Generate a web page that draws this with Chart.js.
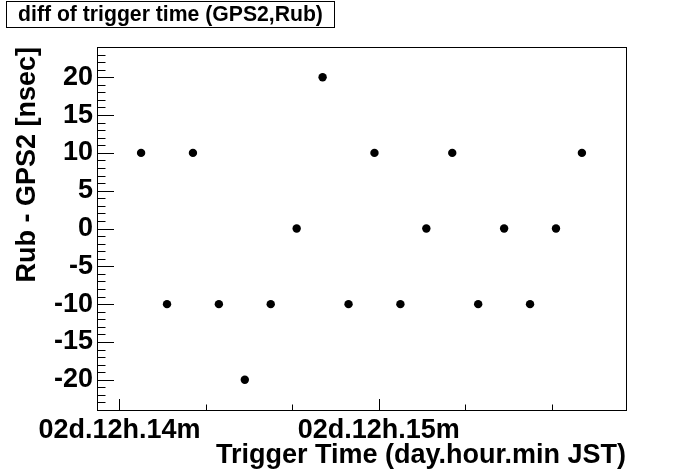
<!DOCTYPE html>
<html><head><meta charset="utf-8">
<script src="https://cdn.jsdelivr.net/npm/chart.js@4/dist/chart.umd.min.js"></script>
<style>html,body{margin:0;padding:0;background:#fff}#wrap{width:696px;height:472px;position:relative}</style>
</head><body><div id="wrap"><canvas id="c"></canvas></div>
<script>
const chartTitle = "diff of trigger time (GPS2,Rub)";
const xAxisTitle = "Trigger Time (day.hour.min JST)";
const yAxisTitle = "Rub - GPS2 [nsec]";
// trigger time in seconds after 02d.12h.14m JST
const triggerTimes = [5, 11, 17, 23, 29, 35, 41, 47, 53, 59, 65, 71, 77, 83, 89, 95, 101, 107];
// Rub - GPS2 [nsec]
const timeDiffs = [10, -10, 10, -10, -20, -10, 0, 20, -10, 10, -10, 0, 10, -10, 0, -10, 0, 10];
const xTickValues = [0, 60];
const xTickLabels = ["02d.12h.14m", "02d.12h.15m"];
const xMinorTickValues = [20, 40, 80, 100];
const yTickValues = [-20, -15, -10, -5, 0, 5, 10, 15, 20];
const yTickLabels = ["-20", "-15", "-10", "-5", "0", "5", "10", "15", "20"];
const xRange = [-5.2, 117.2];
const yRange = [-24, 24];

const FONT = 'Liberation Sans, Arial, Helvetica, sans-serif';

const rootFrame = {
  id: 'rootFrame',
  afterDraw(chart) {
    const {ctx, chartArea: a, scales: {x, y}} = chart;
    ctx.save();
    ctx.strokeStyle = '#000';
    ctx.lineWidth = 1;
    // frame
    ctx.strokeRect(a.left + 0.5, a.top + 0.5, a.right - a.left, a.bottom - a.top);
    ctx.beginPath();
    // y ticks (major every 5, minor every 1)
    for (let v = Math.ceil(yRange[0]); v <= Math.floor(yRange[1]); v++) {
      const py = Math.round(y.getPixelForValue(v)) + 0.5;
      const len = yTickValues.includes(v) ? 17 : 8.5;
      ctx.moveTo(a.left, py);
      ctx.lineTo(a.left + len, py);
    }
    // x ticks
    xTickValues.forEach(v => {
      const px = Math.round(x.getPixelForValue(v)) + 0.5;
      ctx.moveTo(px, a.bottom);
      ctx.lineTo(px, a.bottom - 11);
    });
    xMinorTickValues.forEach(v => {
      const px = Math.round(x.getPixelForValue(v)) + 0.5;
      ctx.moveTo(px, a.bottom);
      ctx.lineTo(px, a.bottom - 5.5);
    });
    ctx.stroke();
    // title box
    ctx.strokeRect(6.5, 1.5, 328, 26);
    ctx.fillStyle = '#000';
    ctx.font = 'bold 21.2px ' + FONT;
    ctx.textAlign = 'center';
    ctx.textBaseline = 'alphabetic';
    ctx.fillText(chartTitle, 170.5, 21);
    ctx.restore();
  }
};

new Chart(document.getElementById('c'), {
  type: 'scatter',
  data: {
    datasets: [{
      data: triggerTimes.map((t, i) => ({x: t, y: timeDiffs[i]})),
      pointRadius: 4.2,
      pointHoverRadius: 4.2,
      pointBackgroundColor: '#000',
      pointBorderColor: '#000',
      pointBorderWidth: 0,
      showLine: false
    }]
  },
  options: {
    responsive: true,
    maintainAspectRatio: false,
    animation: false,
    events: [],
    layout: {padding: {top: 47, right: 70, bottom: 0, left: 0}},
    plugins: {legend: {display: false}, tooltip: {enabled: false}, title: {display: false}},
    scales: {
      x: {
        type: 'linear', min: xRange[0], max: xRange[1],
        grid: {display: false, drawTicks: false},
        border: {display: false},
        afterBuildTicks(s) { s.ticks = xTickValues.map(v => ({value: v})); },
        afterFit(s) { s.height = 62; },
        ticks: {
          autoSkip: false, maxRotation: 0, minRotation: 0, padding: 4, color: '#000',
          font: {family: FONT, size: 27, weight: 'bold'},
          callback: (v, i) => xTickLabels[i]
        },
        title: {
          display: true, text: xAxisTitle, align: 'end', color: '#000',
          font: {family: FONT, size: 27, weight: 'bold'},
          padding: {top: 0, bottom: 0}
        }
      },
      y: {
        type: 'linear', min: yRange[0], max: yRange[1],
        grid: {display: false, drawTicks: false},
        border: {display: false},
        afterBuildTicks(s) { s.ticks = yTickValues.map(v => ({value: v})); },
        afterFit(s) { s.width = 97; },
        ticks: {
          autoSkip: false, padding: 4, color: '#000',
          font: {family: FONT, size: 27, weight: 'bold'},
          callback: (v, i) => yTickLabels[i]
        },
        title: {
          display: true, text: yAxisTitle, align: 'end', color: '#000',
          font: {family: FONT, size: 27, weight: 'bold'},
          padding: {top: 11, bottom: 0}
        }
      }
    }
  },
  plugins: [rootFrame]
});
</script>
</body></html>
